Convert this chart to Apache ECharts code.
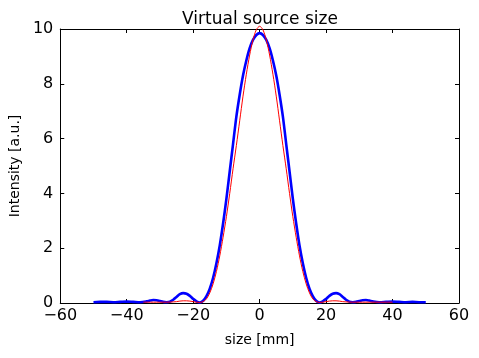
<!DOCTYPE html>
<html><head><meta charset="utf-8">
<script src="https://cdn.jsdelivr.net/npm/echarts@6/dist/echarts.min.js"></script>
<style>html,body{margin:0;padding:0;background:#fff}#c{width:479px;height:358px}</style>
</head><body><div id="c"></div>
<script>
var titleText = "Virtual source size";
var xName = "size [mm]";
var yName = "Intensity [a.u.]";
var xTicks = [-60, -40, -20, 0, 20, 40, 60];
var yTicks = [0, 2, 4, 6, 8, 10];

// blue (measured) curve
var blueX = [-50,-48,-46,-44,-42,-40,-38,-36,-34,-33,-32,-31,-30,-29,-28,-27,-26,-25,-24,-23,-22,-21,-20,-19,-18,-17,-16,-15,-14,-13,-12,-11,-10,-9,-8,-7,-6,-5,-4,-3,-2,-1,0,1,2,3,4,5,6,7,8,9,10,11,12,13,14,15,16,17,18,19,20,21,22,23,24,25,26,27,28,29,30,31,32,33,34,36,38,40,42,44,46,48,50];
var blueY = [0.03,0.04,0.04,0.03,0.04,0.05,0.04,0.03,0.06,0.09,0.11,0.1,0.07,0.04,0.03,0.05,0.12,0.22,0.32,0.36,0.34,0.26,0.15,0.06,0.02,0.08,0.25,0.52,0.92,1.45,2.1,2.9,3.8,4.8,5.8,6.8,7.6,8.3,8.85,9.3,9.6,9.78,9.85,9.78,9.6,9.3,8.85,8.3,7.6,6.8,5.8,4.8,3.8,2.9,2.1,1.45,0.92,0.52,0.25,0.08,0.02,0.06,0.15,0.26,0.34,0.36,0.32,0.22,0.12,0.05,0.03,0.04,0.07,0.1,0.11,0.09,0.06,0.03,0.04,0.05,0.04,0.03,0.04,0.03,0.03];

// red (fit) curve
var redX = [-35,-32,-30,-28,-26,-25,-24,-23,-22,-21,-20,-19,-18,-17,-16,-15,-14,-13,-12,-11,-10,-9,-8,-7,-6,-5,-4,-3,-2,-1,0,1,2,3,4,5,6,7,8,9,10,11,12,13,14,15,16,17,18,19,20,21,22,23,24,25,26,28,30,32,35,38,40];
var redY = [0.03,0.03,0.03,0.03,0.04,0.05,0.07,0.08,0.08,0.07,0.05,0.03,0.02,0.05,0.15,0.37,0.7,1.15,1.72,2.4,3.15,4.0,4.9,5.75,6.65,7.55,8.35,9.05,9.6,9.97,10.1,9.97,9.6,9.05,8.35,7.55,6.65,5.75,4.9,4.0,3.15,2.4,1.72,1.15,0.7,0.37,0.15,0.05,0.02,0.03,0.05,0.07,0.08,0.08,0.07,0.05,0.04,0.03,0.03,0.03,0.03,0.03,0.03];

function pairs(xs, ys){ return xs.map(function(x,i){ return [x, ys[i]]; }); }

var chart = echarts.init(document.getElementById('c'), null, {renderer:'canvas'});
var font = "DejaVu Sans";
var axisLineStyle = {color:'#000', width:1};
chart.setOption({
  animation:false,
  backgroundColor:'#fff',
  title:{text:titleText, left:255, top:6, textAlign:'center',
    textStyle:{fontFamily:font, fontSize:17, fontWeight:'normal', color:'#000'}},
  grid:{left:58, right:20, top:29, bottom:55},
  xAxis:[{
    type:'value', min:-60, max:60, interval:20,
    name:xName, nameLocation:'middle', nameGap:30,
    nameTextStyle:{fontFamily:font, fontSize:14, color:'#000'},
    axisLine:{show:true, onZero:false, lineStyle:axisLineStyle},
    axisTick:{show:true, inside:true, length:4, lineStyle:axisLineStyle},
    axisLabel:{fontFamily:font, fontSize:16, color:'#000', margin:5,
      formatter:function(v){ return xTicks.indexOf(v)>=0 ? String(v).replace('-', '\u2212') : ''; }},
    splitLine:{show:false}
  },{
    type:'value', min:-60, max:60, interval:20, position:'top',
    axisLine:{show:true, onZero:false, lineStyle:axisLineStyle},
    axisTick:{show:true, inside:true, length:4, lineStyle:axisLineStyle},
    axisLabel:{show:false}, splitLine:{show:false}
  }],
  yAxis:[{
    type:'value', min:0, max:10, interval:2,
    name:yName, nameLocation:'middle', nameGap:34,
    nameTextStyle:{fontFamily:font, fontSize:14, color:'#000'},
    axisLine:{show:true, onZero:false, lineStyle:axisLineStyle},
    axisTick:{show:true, inside:true, length:4, lineStyle:axisLineStyle},
    axisLabel:{fontFamily:font, fontSize:16, color:'#000', margin:7,
      formatter:function(v){ return yTicks.indexOf(v)>=0 ? String(v) : ''; }},
    splitLine:{show:false}
  },{
    type:'value', min:0, max:10, interval:2, position:'right',
    axisLine:{show:true, onZero:false, lineStyle:axisLineStyle},
    axisTick:{show:true, inside:true, length:4, lineStyle:axisLineStyle},
    axisLabel:{show:false}, splitLine:{show:false}
  }],
  series:[{
    type:'line', name:'measured', data:pairs(blueX, blueY), smooth:0.3,
    showSymbol:false, clip:false,
    lineStyle:{color:'#0000ff', width:2.6}, z:2
  },{
    type:'line', name:'fit', data:pairs(redX, redY), smooth:0.3,
    showSymbol:false, clip:false,
    lineStyle:{color:'#ff0000', width:1}, z:3
  }]
});
</script></body></html>
